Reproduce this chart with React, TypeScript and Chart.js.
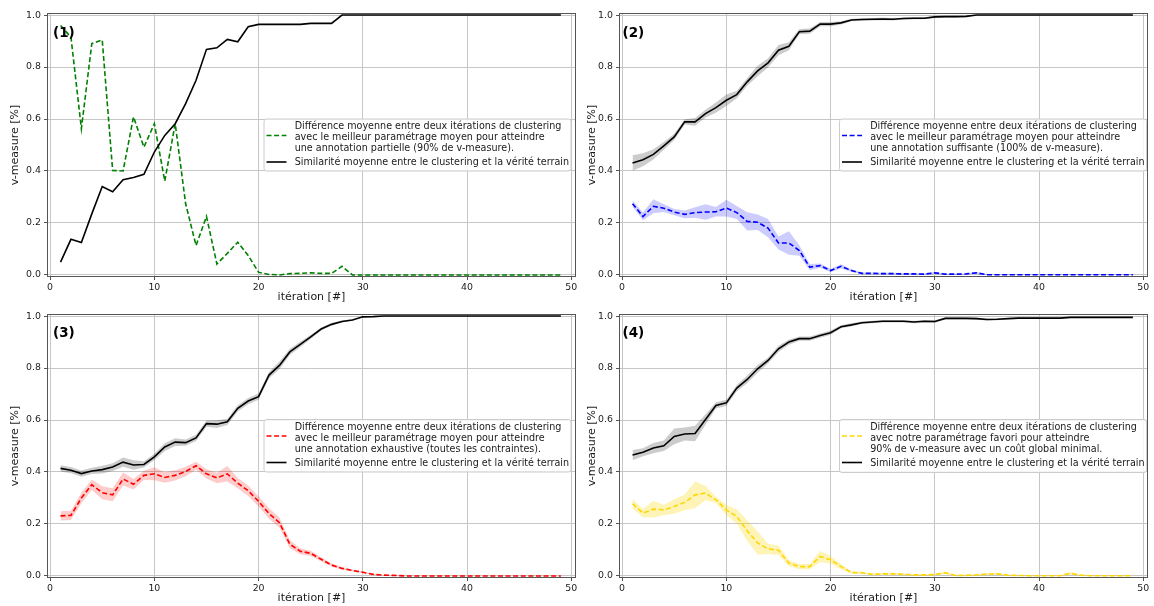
import React, { useEffect, useRef } from "react";
import { Chart, registerables } from "chart.js";
Chart.register(...registerables);

const FONT = "'DejaVu Sans', 'Noto Sans', sans-serif";
Chart.defaults.font.family = FONT;

// ---------------- data ----------------
const iterations = [1, 2, 3, 4, 5, 6, 7, 8, 9, 10, 11, 12, 13, 14, 15, 16, 17, 18, 19, 20, 21, 22, 23, 24, 25, 26, 27, 28, 29, 30, 31, 32, 33, 34, 35, 36, 37, 38, 39, 40, 41, 42, 43, 44, 45, 46, 47, 48, 49];
const xTicks = [0, 10, 20, 30, 40, 50];
const yTicks = [0, 0.2, 0.4, 0.6, 0.8, 1.0];

// Panel (1)
const diff1 = [0.96, 0.915, 0.563, 0.89, 0.904, 0.402, 0.4, 0.608, 0.492, 0.582, 0.361, 0.582, 0.274, 0.113, 0.225, 0.042, 0.083, 0.126, 0.075, 0.01, 0.002, 0.0, 0.005, 0.006, 0.008, 0.006, 0.006, 0.033, 0, 0, 0, 0, 0, 0, 0, 0, 0, 0, 0, 0, 0, 0, 0, 0, 0, 0, 0, 0, 0];
const sim1 = [0.049, 0.137, 0.125, 0.235, 0.34, 0.32, 0.366, 0.375, 0.387, 0.473, 0.537, 0.582, 0.659, 0.749, 0.868, 0.874, 0.906, 0.897, 0.955, 0.964, 0.964, 0.964, 0.964, 0.964, 0.968, 0.968, 0.968, 1, 1, 1, 1, 1, 1, 1, 1, 1, 1, 1, 1, 1, 1, 1, 1, 1, 1, 1, 1, 1, 1];

// Panel (2)
const diff2 = [0.274, 0.225, 0.264, 0.257, 0.242, 0.233, 0.24, 0.242, 0.243, 0.257, 0.24, 0.206, 0.203, 0.18, 0.123, 0.123, 0.094, 0.03, 0.036, 0.017, 0.033, 0.017, 0.006, 0.006, 0.005, 0.005, 0.004, 0.004, 0.003, 0.008, 0.003, 0.003, 0.004, 0.008, 0.001, 0.001, 0.001, 0.001, 0.001, 0.001, 0.001, 0.001, 0.001, 0.001, 0.001, 0.001, 0.001, 0.001, 0.001];
const diff2Spread = [0.012, 0.015, 0.027, 0.015, 0.012, 0.015, 0.02, 0.03, 0.018, 0.032, 0.025, 0.035, 0.03, 0.035, 0.025, 0.045, 0.02, 0.012, 0.008, 0.006, 0.008, 0.005, 0.003, 0.003, 0.003, 0.003, 0.003, 0.003, 0.003, 0.004, 0.002, 0.002, 0.002, 0.004, 0.001, 0.001, 0.001, 0.001, 0.001, 0.001, 0.001, 0.001, 0.001, 0.001, 0.001, 0.001, 0.001, 0.001, 0.001];
const sim2 = [0.431, 0.443, 0.464, 0.497, 0.531, 0.589, 0.589, 0.621, 0.644, 0.672, 0.694, 0.743, 0.785, 0.816, 0.865, 0.88, 0.936, 0.938, 0.965, 0.965, 0.97, 0.981, 0.983, 0.984, 0.985, 0.984, 0.987, 0.988, 0.988, 0.993, 0.994, 0.994, 0.995, 1, 1, 1, 1, 1, 1, 1, 1, 1, 1, 1, 1, 1, 1, 1, 1];
const sim2Spread = [0.03, 0.025, 0.02, 0.015, 0.012, 0.01, 0.015, 0.015, 0.02, 0.022, 0.015, 0.015, 0.02, 0.018, 0.02, 0.015, 0.01, 0.01, 0.008, 0.008, 0.006, 0.005, 0.005, 0.005, 0.005, 0.005, 0.004, 0.004, 0.004, 0.004, 0.003, 0.003, 0.003, 0.001, 0.001, 0.001, 0.001, 0.001, 0.001, 0.001, 0.001, 0.001, 0.001, 0.001, 0.001, 0.001, 0.001, 0.001, 0.001];

// Panel (3)
const diff3 = [0.231, 0.233, 0.3, 0.351, 0.32, 0.312, 0.373, 0.353, 0.387, 0.393, 0.379, 0.387, 0.402, 0.424, 0.393, 0.377, 0.393, 0.357, 0.328, 0.287, 0.24, 0.205, 0.122, 0.095, 0.087, 0.064, 0.042, 0.029, 0.021, 0.014, 0.006, 0.003, 0.002, 0, 0, 0, 0, 0, 0, 0, 0, 0, 0, 0, 0, 0, 0, 0, 0];
const diff3Spread = [0.018, 0.018, 0.02, 0.02, 0.025, 0.025, 0.025, 0.02, 0.018, 0.025, 0.02, 0.02, 0.018, 0.015, 0.018, 0.02, 0.03, 0.02, 0.02, 0.02, 0.02, 0.02, 0.015, 0.012, 0.01, 0.008, 0.006, 0.005, 0.004, 0.003, 0.002, 0.001, 0.001, 0, 0, 0, 0, 0, 0, 0, 0, 0, 0, 0, 0, 0, 0, 0, 0];
const sim3 = [0.414, 0.407, 0.394, 0.404, 0.409, 0.419, 0.438, 0.427, 0.429, 0.458, 0.496, 0.515, 0.513, 0.531, 0.586, 0.584, 0.593, 0.645, 0.673, 0.69, 0.773, 0.81, 0.862, 0.891, 0.92, 0.95, 0.968, 0.979, 0.985, 0.997, 0.998, 1, 1, 1, 1, 1, 1, 1, 1, 1, 1, 1, 1, 1, 1, 1, 1, 1, 1];
const sim3Spread = [0.012, 0.012, 0.012, 0.012, 0.015, 0.015, 0.018, 0.018, 0.012, 0.012, 0.015, 0.015, 0.012, 0.012, 0.012, 0.015, 0.012, 0.012, 0.012, 0.012, 0.012, 0.015, 0.012, 0.01, 0.008, 0.006, 0.005, 0.004, 0.003, 0.002, 0.001, 0.001, 0.001, 0, 0, 0, 0, 0, 0, 0, 0, 0, 0, 0, 0, 0, 0, 0, 0];

// Panel (4)
const diff4 = [0.278, 0.242, 0.257, 0.254, 0.267, 0.283, 0.312, 0.319, 0.293, 0.254, 0.229, 0.174, 0.127, 0.104, 0.099, 0.049, 0.036, 0.036, 0.075, 0.062, 0.036, 0.013, 0.012, 0.006, 0.008, 0.008, 0.006, 0.004, 0.004, 0.005, 0.012, 0.002, 0.002, 0.004, 0.007, 0.008, 0.003, 0.002, 0.001, 0.001, 0.001, 0.001, 0.01, 0.003, 0.001, 0.001, 0.001, 0.001, 0.001];
const diff4Spread = [0.018, 0.017, 0.032, 0.02, 0.028, 0.03, 0.052, 0.028, 0.012, 0.02, 0.028, 0.04, 0.045, 0.02, 0.018, 0.012, 0.01, 0.01, 0.022, 0.015, 0.01, 0.005, 0.004, 0.003, 0.004, 0.004, 0.003, 0.003, 0.003, 0.003, 0.005, 0.002, 0.002, 0.003, 0.004, 0.004, 0.002, 0.001, 0.001, 0.001, 0.001, 0.001, 0.005, 0.002, 0.001, 0.001, 0.001, 0.001, 0.001];
const sim4 = [0.465, 0.476, 0.492, 0.501, 0.537, 0.546, 0.548, 0.602, 0.656, 0.666, 0.723, 0.756, 0.797, 0.829, 0.874, 0.9, 0.913, 0.913, 0.925, 0.936, 0.959, 0.966, 0.974, 0.977, 0.98, 0.98, 0.98, 0.977, 0.98, 0.979, 0.991, 0.991, 0.991, 0.99, 0.987, 0.988, 0.99, 0.992, 0.992, 0.992, 0.992, 0.992, 0.995, 0.995, 0.995, 0.995, 0.995, 0.995, 0.995];
const sim4Spread = [0.02, 0.015, 0.02, 0.02, 0.03, 0.025, 0.03, 0.02, 0.012, 0.012, 0.012, 0.015, 0.015, 0.012, 0.012, 0.01, 0.008, 0.008, 0.008, 0.008, 0.006, 0.006, 0.005, 0.005, 0.005, 0.005, 0.005, 0.005, 0.005, 0.005, 0.004, 0.004, 0.004, 0.004, 0.004, 0.004, 0.003, 0.003, 0.003, 0.003, 0.003, 0.003, 0.002, 0.002, 0.002, 0.002, 0.002, 0.002, 0.002];

// ---------------- texts ----------------
const xTitle = "itération [#]";
const yTitle = "v-measure [%]";
const simLabel = "Similarité moyenne entre le clustering et la vérité terrain";
const diffLabel1 = ["Différence moyenne entre deux itérations de clustering", "avec le meilleur paramétrage moyen pour atteindre", "une annotation partielle (90% de v-measure)."];
const diffLabel2 = ["Différence moyenne entre deux itérations de clustering", "avec le meilleur paramétrage moyen pour atteindre", "une annotation suffisante (100% de v-measure)."];
const diffLabel3 = ["Différence moyenne entre deux itérations de clustering", "avec le meilleur paramétrage moyen pour atteindre", "une annotation exhaustive (toutes les contraintes)."];
const diffLabel4 = ["Différence moyenne entre deux itérations de clustering", "avec notre paramétrage favori pour atteindre", "90% de v-measure avec un coût global minimal."];

// ---------------- style / layout ----------------
const TEXT = "#1a1a1a";
const GRID = "#c6c6c6";
const SPINE = "#555555";
const TICK_SIZE = 9.4;
const LEGEND_SIZE = 9.6;
const TITLE_SIZE = 11;
const LINE_W = 1.6;
const DASH = [5, 2.6];

type PanelCfg = {
  tag: string;
  left: number; top: number; w: number; h: number;
  ca: { l: number; r: number; t: number; b: number };
  ytitleX: number; xtitleY: number;
  tagX: number; tagY: number;
  leg: { x: number; y: number; w: number; h: number };
  diff: number[]; diffSpread: number[] | null;
  sim: number[]; simSpread: number[] | null;
  color: string; band: string;
  diffLabel: string[];
};

const panels: PanelCfg[] = [
  {
    tag: "(1)", left: 0, top: 0, w: 590, h: 306,
    ca: { l: 47.5, r: 575.5, t: 13.5, b: 276.5 }, ytitleX: 15, xtitleY: 297.5,
    tagX: 53, tagY: 33.5, leg: { x: 264, y: 119, w: 307, h: 52 },
    diff: diff1, diffSpread: null, sim: sim1, simSpread: null,
    color: "#008000", band: "rgba(0,128,0,0.2)", diffLabel: diffLabel1,
  },
  {
    tag: "(2)", left: 577, top: 0, w: 577, h: 306,
    ca: { l: 619.5, r: 1147.5, t: 13.5, b: 276.5 }, ytitleX: 591.7, xtitleY: 297.5,
    tagX: 622.5, tagY: 33.5, leg: { x: 839.5, y: 119, w: 307, h: 52 },
    diff: diff2, diffSpread: diff2Spread, sim: sim2, simSpread: sim2Spread,
    color: "#0000ff", band: "rgba(0,0,255,0.2)", diffLabel: diffLabel2,
  },
  {
    tag: "(3)", left: 0, top: 300, w: 590, h: 306,
    ca: { l: 47.5, r: 575.5, t: 314.5, b: 577.5 }, ytitleX: 15, xtitleY: 598,
    tagX: 53, tagY: 333, leg: { x: 264, y: 419.5, w: 307, h: 52.5 },
    diff: diff3, diffSpread: diff3Spread, sim: sim3, simSpread: sim3Spread,
    color: "#ff0000", band: "rgba(255,0,0,0.2)", diffLabel: diffLabel3,
  },
  {
    tag: "(4)", left: 577, top: 300, w: 577, h: 306,
    ca: { l: 619.5, r: 1147.5, t: 314.5, b: 577.5 }, ytitleX: 591.7, xtitleY: 598,
    tagX: 622.5, tagY: 333, leg: { x: 839.5, y: 419.5, w: 307, h: 53 },
    diff: diff4, diffSpread: diff4Spread, sim: sim4, simSpread: sim4Spread,
    color: "#ffd700", band: "rgba(255,215,0,0.28)", diffLabel: diffLabel4,
  },
];

const pts = (arr: number[]) => iterations.map((x, i) => ({ x, y: arr[i] }));
const shifted = (arr: number[], sp: number[], sign: number) =>
  iterations.map((x, i) => ({ x, y: arr[i] + sign * sp[i] }));

function buildDatasets(p: PanelCfg) {
  const ds: any[] = [
    {
      label: p.diffLabel.join(" "), data: pts(p.diff), borderColor: p.color, borderWidth: LINE_W,
      borderDash: DASH, pointRadius: 0, fill: false, tension: 0, order: 1,
    },
    {
      label: simLabel, data: pts(p.sim), borderColor: "#000000", borderWidth: LINE_W,
      pointRadius: 0, fill: false, tension: 0, order: 0,
    },
  ];
  if (p.diffSpread) {
    ds.push(
      { label: "diff-upper", data: shifted(p.diff, p.diffSpread, 1), borderWidth: 0, borderColor: "rgba(0,0,0,0)", pointRadius: 0, backgroundColor: p.band, fill: 3, order: 3 },
      { label: "diff-lower", data: shifted(p.diff, p.diffSpread, -1), borderWidth: 0, borderColor: "rgba(0,0,0,0)", pointRadius: 0, fill: false, order: 3 },
    );
  }
  if (p.simSpread) {
    ds.push(
      { label: "sim-upper", data: shifted(p.sim, p.simSpread, 1), borderWidth: 0, borderColor: "rgba(0,0,0,0)", pointRadius: 0, backgroundColor: "rgba(0,0,0,0.2)", fill: 5, order: 4 },
      { label: "sim-lower", data: shifted(p.sim, p.simSpread, -1), borderWidth: 0, borderColor: "rgba(0,0,0,0)", pointRadius: 0, fill: false, order: 4 },
    );
  }
  return ds;
}

function Panel({ p }: { p: PanelCfg }) {
  const ref = useRef<HTMLCanvasElement>(null);
  useEffect(() => {
    const yAxisW = p.ca.l - p.left;
    const xAxisH = p.top + p.h - p.ca.b;
    const padTop = p.ca.t - p.top;
    const padRight = p.left + p.w - p.ca.r;
    const yTitlePad = p.ytitleX - p.left - (TITLE_SIZE * 1.2) / 2;
    const xTitlePad = p.top + p.h - p.xtitleY - (TITLE_SIZE * 1.2) / 2;

    const decor = {
      id: "decor",
      afterDraw(chart: any) {
        const ctx: CanvasRenderingContext2D = chart.ctx;
        const a = chart.chartArea;
        ctx.save();
        ctx.setLineDash([]);
        ctx.strokeStyle = SPINE;
        ctx.lineWidth = 1;
        ctx.strokeRect(a.left, a.top, a.right - a.left, a.bottom - a.top);
        ctx.fillStyle = "#000";
        ctx.font = `bold 13.5px ${FONT}`;
        ctx.textAlign = "left";
        ctx.textBaseline = "middle";
        ctx.fillText(p.tag, p.tagX - p.left, p.tagY - p.top);
        const bx = p.leg.x - p.left, by = p.leg.y - p.top, bw = p.leg.w, bh = p.leg.h, r = 2.5;
        ctx.beginPath();
        ctx.moveTo(bx + r, by);
        ctx.lineTo(bx + bw - r, by);
        ctx.quadraticCurveTo(bx + bw, by, bx + bw, by + r);
        ctx.lineTo(bx + bw, by + bh - r);
        ctx.quadraticCurveTo(bx + bw, by + bh, bx + bw - r, by + bh);
        ctx.lineTo(bx + r, by + bh);
        ctx.quadraticCurveTo(bx, by + bh, bx, by + bh - r);
        ctx.lineTo(bx, by + r);
        ctx.quadraticCurveTo(bx, by, bx + r, by);
        ctx.closePath();
        ctx.fillStyle = "rgba(255,255,255,0.8)";
        ctx.fill();
        ctx.strokeStyle = "#cccccc";
        ctx.lineWidth = 1;
        ctx.stroke();
        ctx.lineWidth = LINE_W;
        ctx.strokeStyle = p.color;
        ctx.setLineDash(DASH);
        ctx.beginPath();
        ctx.moveTo(bx + 2.5, by + 16.5);
        ctx.lineTo(bx + 22.5, by + 16.5);
        ctx.stroke();
        ctx.setLineDash([]);
        ctx.strokeStyle = "#000";
        ctx.beginPath();
        ctx.moveTo(bx + 2.5, by + 43);
        ctx.lineTo(bx + 22.5, by + 43);
        ctx.stroke();
        ctx.fillStyle = TEXT;
        ctx.font = `${LEGEND_SIZE}px ${FONT}`;
        const tx = bx + 30.7;
        p.diffLabel.forEach((line, i) => ctx.fillText(line, tx, by + 7.5 + i * 11));
        ctx.fillText(simLabel, tx, by + 43.5);
        ctx.restore();
      },
    };

    const chart = new Chart(ref.current as HTMLCanvasElement, {
      type: "line",
      data: { datasets: buildDatasets(p) },
      options: {
        animation: false,
        responsive: false,
        maintainAspectRatio: false,
        devicePixelRatio: 1,
        layout: { padding: { left: 0, top: padTop, right: padRight, bottom: 0 } },
        plugins: { legend: { display: false }, tooltip: { enabled: false } },
        scales: {
          x: {
            type: "linear",
            min: -0.25,
            max: 50.4,
            afterBuildTicks: (s: any) => { s.ticks = xTicks.map((v) => ({ value: v })); },
            afterFit: (s: any) => { s.height = xAxisH; },
            ticks: {
              autoSkip: false, maxRotation: 0, padding: 1.5, color: TEXT,
              font: { family: FONT, size: TICK_SIZE },
              callback: (v: any) => String(v),
            },
            grid: { color: GRID, lineWidth: 1, tickLength: 3.5, tickColor: SPINE, drawTicks: true },
            border: { display: false },
            title: {
              display: true, text: xTitle, color: TEXT,
              font: { family: FONT, size: TITLE_SIZE }, padding: { top: 0, bottom: xTitlePad },
            },
          },
          y: {
            type: "linear",
            min: -0.006,
            max: 1.006,
            afterBuildTicks: (s: any) => { s.ticks = yTicks.map((v) => ({ value: v })); },
            afterFit: (s: any) => { s.width = yAxisW; },
            ticks: {
              autoSkip: false, padding: 3, color: TEXT,
              font: { family: FONT, size: TICK_SIZE },
              callback: (v: any) => Number(v).toFixed(1),
            },
            grid: { color: GRID, lineWidth: 1, tickLength: 3.5, tickColor: SPINE, drawTicks: true },
            border: { display: false },
            title: {
              display: true, text: yTitle, color: TEXT,
              font: { family: FONT, size: TITLE_SIZE }, padding: { top: yTitlePad, bottom: 0 },
            },
          },
        },
      } as any,
      plugins: [decor],
    });
    return () => chart.destroy();
  }, []);
  return (
    <canvas
      ref={ref}
      width={p.w}
      height={p.h}
      style={{ position: "absolute", left: p.left, top: p.top, width: p.w, height: p.h }}
    />
  );
}

export default function App() {
  return (
    <div style={{ position: "absolute", left: 0, top: 0, width: 1154, height: 606, background: "#ffffff", overflow: "hidden" }}>
      {panels.map((p) => (
        <Panel key={p.tag} p={p} />
      ))}
    </div>
  );
}
